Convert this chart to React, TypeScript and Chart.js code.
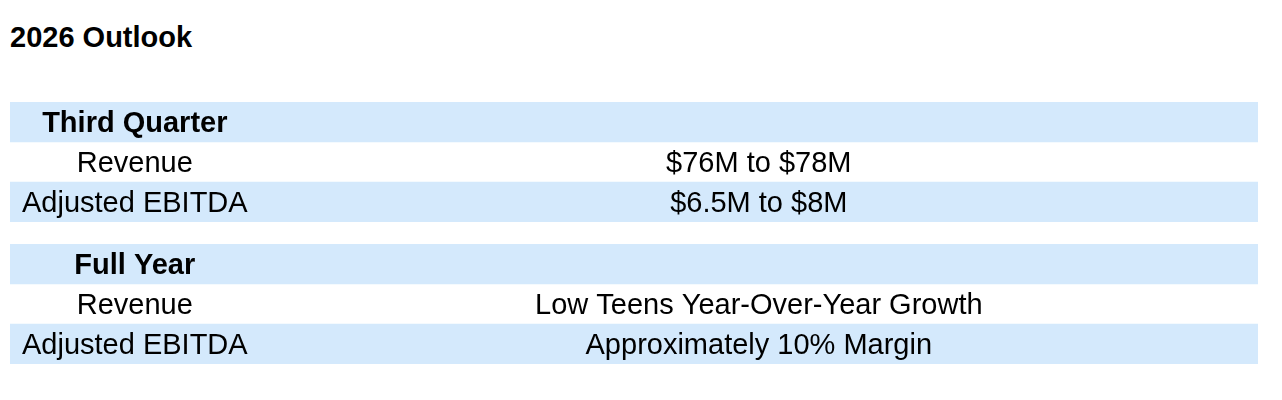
import { Chart, registerables } from 'chart.js'
import { useEffect, useRef } from 'react'

Chart.register(...registerables)

const TITLE = '2026 Outlook'
const SECTIONS = ['Third Quarter', 'Full Year']
const METRICS = ['Revenue', 'Adjusted EBITDA']
const THIRD_QUARTER_VALUES = ['$76M to $78M', '$6.5M to $8M']
const FULL_YEAR_VALUES = ['Low Teens Year-Over-Year Growth', 'Approximately 10% Margin']
const SHADED = [true, false, true]

const BAND = '#d4e9fc'
const FONT = "'Liberation Sans', Arial, sans-serif"
// column centres, in % of the table width
const LABEL_X = 10
const VALUE_X = 60

const cellText = {
  id: 'cellText',
  afterDatasetsDraw(chart: any, _args: any, opts: any) {
    const { ctx } = chart
    const { x, y } = chart.scales
    const labels = chart.data.labels as string[]
    ctx.save()
    ctx.fillStyle = '#000'
    ctx.textAlign = 'center'
    ctx.textBaseline = 'alphabetic'
    labels.forEach((label, i) => {
      const py = y.getPixelForValue(i) + 10
      ctx.font = `${i === 0 ? 'bold ' : ''}29px ${FONT}`
      ctx.fillText(label, x.getPixelForValue(LABEL_X), py)
      const v = opts.values[i]
      if (v) {
        ctx.font = `29px ${FONT}`
        ctx.fillText(v, x.getPixelForValue(VALUE_X), py)
      }
    })
    ctx.restore()
  },
}

function SectionTable({ title, values, top }: { title: string; values: string[]; top: number }) {
  const canvasRef = useRef<HTMLCanvasElement>(null)
  const chartRef = useRef<Chart | null>(null)

  useEffect(() => {
    if (!canvasRef.current) return
    if (chartRef.current) chartRef.current.destroy()

    chartRef.current = new Chart(canvasRef.current, {
      type: 'bar',
      data: {
        labels: [title, ...METRICS],
        datasets: [{
          data: SHADED.map(s => (s ? [0, 100] : null)) as any,
          backgroundColor: BAND,
          borderWidth: 0,
          borderSkipped: false,
          barPercentage: 1,
          categoryPercentage: 1,
        }],
      },
      options: {
        indexAxis: 'y',
        animation: false,
        responsive: true,
        maintainAspectRatio: false,
        events: [],
        layout: { padding: 0 },
        plugins: {
          legend: { display: false },
          tooltip: { enabled: false },
          cellText: { values: ['', ...values] },
        } as any,
        scales: {
          x: { type: 'linear', min: 0, max: 100, display: false },
          y: { type: 'category', display: false },
        },
      },
      plugins: [cellText],
    })
    return () => { if (chartRef.current) chartRef.current.destroy() }
  }, [title, values])

  return (
    <div style={{ position: 'absolute', left: 10, top, width: 1248, height: 120 }}>
      <canvas ref={canvasRef} />
    </div>
  )
}

export default function App() {
  useEffect(() => { document.body.style.margin = '0' }, [])
  return (
    <div style={{ position: 'relative', width: 1282, height: 400, background: '#fff' }}>
      <div style={{ position: 'absolute', left: 10, top: 23, font: `bold 29px/28px ${FONT}`, color: '#000' }}>{TITLE}</div>
      <SectionTable title={SECTIONS[0]} values={THIRD_QUARTER_VALUES} top={102} />
      <SectionTable title={SECTIONS[1]} values={FULL_YEAR_VALUES} top={244} />
    </div>
  )
}
